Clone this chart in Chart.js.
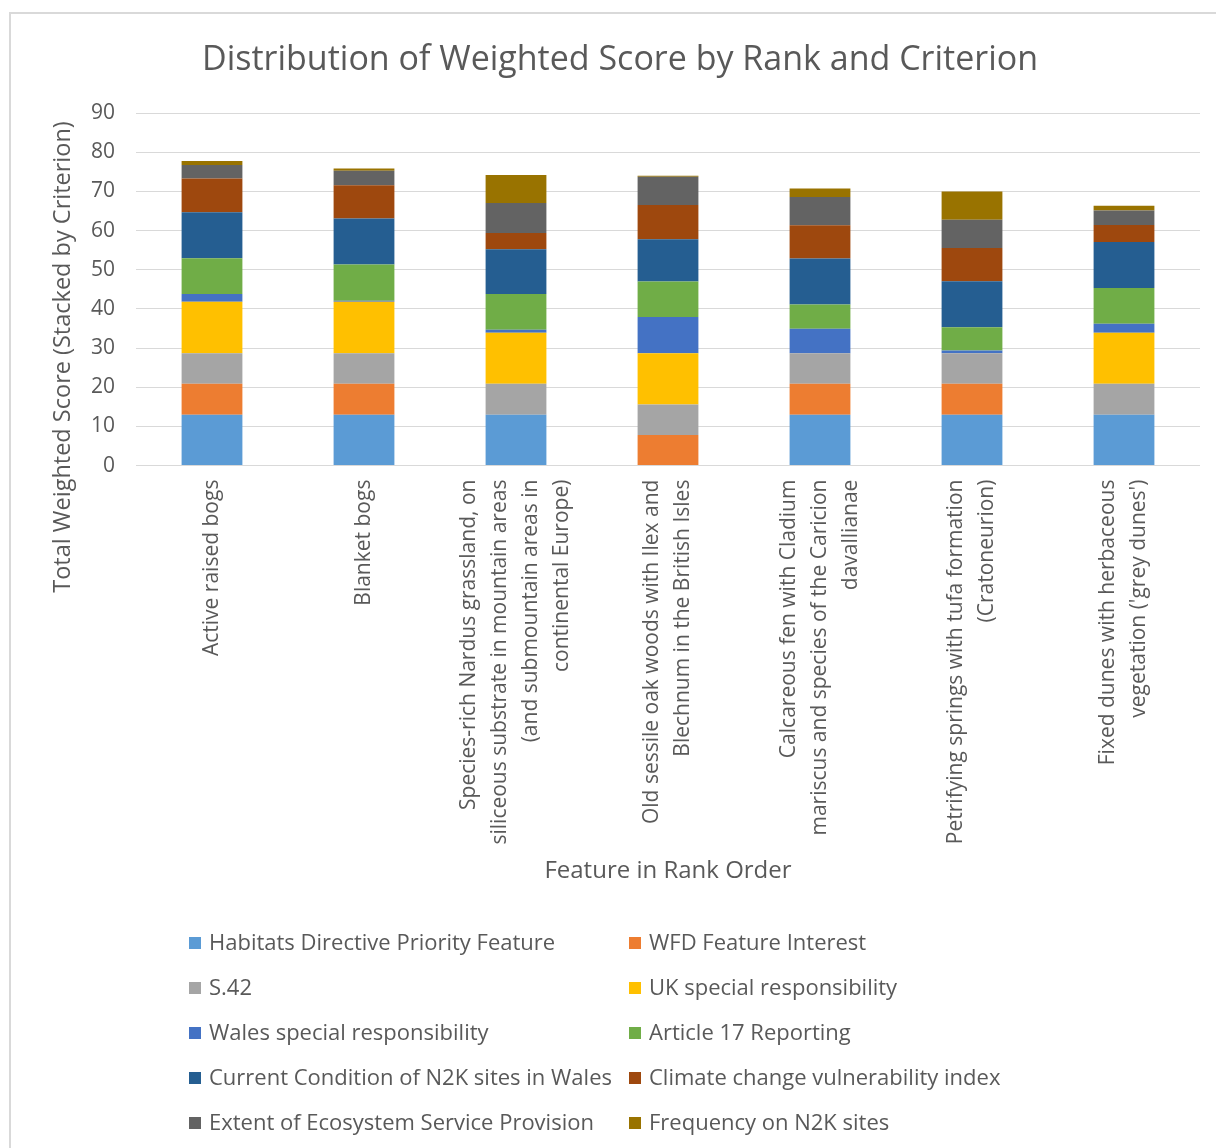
<!DOCTYPE html>
<html><head><meta charset="utf-8">
<script src="https://cdn.jsdelivr.net/npm/chart.js@4"></script>
<style>html,body{margin:0;padding:0;background:#fff}canvas{display:block}</style>
</head><body>
<canvas id="c" width="1216" height="1148"></canvas>
<script>
const categories = [
  ["Active raised bogs"],
  ["Blanket bogs"],
  ["Species-rich Nardus grassland, on", "siliceous substrate in mountain areas", "(and submountain areas in", "continental Europe)"],
  ["Old sessile oak woods with Ilex and", "Blechnum in the British Isles"],
  ["Calcareous fen with Cladium", "mariscus and species of the Caricion", "davallianae"],
  ["Petrifying springs with tufa formation", "(Cratoneurion)"],
  ["Fixed dunes with herbaceous", "vegetation ('grey dunes')"]
];
const seriesNames = [
  "Habitats Directive Priority Feature",
  "WFD Feature Interest",
  "S.42",
  "UK special responsibility",
  "Wales special responsibility",
  "Article 17 Reporting",
  "Current Condition of N2K sites in Wales",
  "Climate change vulnerability index",
  "Extent of Ecosystem Service Provision",
  "Frequency on N2K sites"
];
const habitatsDirective = [13, 13, 13, 0, 13, 13, 13];
const wfdFeature        = [7.9, 7.9, 0, 7.8, 7.9, 7.9, 0];
const s42               = [7.8, 7.8, 7.9, 7.8, 7.8, 7.8, 7.9];
const ukSpecial         = [13.1, 13.1, 13.0, 13.1, 0, 0, 13.0];
const walesSpecial      = [2.0, 0.3, 0.8, 9.2, 6.2, 0.7, 2.3];
const article17         = [9.1, 9.2, 9.1, 9.1, 6.2, 5.9, 9.1];
const currentCondition  = [11.75, 11.75, 11.4, 10.8, 11.75, 11.75, 11.8];
const climateChange     = [8.6, 8.5, 4.2, 8.7, 8.5, 8.5, 4.3];
const ecosystemService  = [3.5, 3.7, 7.6, 7.2, 7.2, 7.2, 3.7];
const frequencyN2K      = [1.0, 0.6, 7.2, 0.3, 2.2, 7.2, 1.2];
const yTickValues = [0, 10, 20, 30, 40, 50, 60, 70, 80, 90];

const seriesValues = [habitatsDirective, wfdFeature, s42, ukSpecial, walesSpecial,
  article17, currentCondition, climateChange, ecosystemService, frequencyN2K];
const colors = ["#5B9BD5", "#ED7D31", "#A5A5A5", "#FFC000", "#4472C4",
  "#70AD47", "#255E91", "#9E480E", "#636363", "#997300"];

const FONT = '"Open Sans", Lato, sans-serif';
const TXT = '#595959';

const decor = {
  id: 'decor',
  beforeDraw(chart) {
    const ctx = chart.ctx;
    ctx.save();
    ctx.fillStyle = '#fff';
    ctx.fillRect(0, 0, chart.width, chart.height);
    ctx.strokeStyle = '#d9d9d9';
    ctx.lineWidth = 2;
    ctx.beginPath();
    ctx.moveTo(10, chart.height); ctx.lineTo(10, 13); ctx.lineTo(chart.width, 13);
    ctx.stroke();
    ctx.restore();
  },
  afterDraw(chart) {
    const ctx = chart.ctx;
    const xs = chart.scales.x;
    const area = chart.chartArea;
    ctx.save();
    ctx.fillStyle = TXT;
    // x category labels, rotated
    ctx.font = '21px ' + FONT;
    ctx.textAlign = 'right';
    ctx.textBaseline = 'middle';
    const lh = 31;
    categories.forEach((lines, i) => {
      const cx = xs.getPixelForValue(i);
      const n = lines.length;
      ctx.save();
      ctx.translate(cx, area.bottom + 14);
      ctx.rotate(-Math.PI / 2);
      lines.forEach((t, j) => {
        ctx.fillText(t, 0, (j - (n - 1) / 2) * lh);
      });
      ctx.restore();
    });
    // y axis title
    ctx.save();
    ctx.font = '23.5px ' + FONT;
    ctx.textAlign = 'center';
    ctx.textBaseline = 'middle';
    ctx.translate(63, 357);
    ctx.rotate(-Math.PI / 2);
    ctx.fillText('Total Weighted Score (Stacked by Criterion)', 0, 0);
    ctx.restore();
    // legend
    ctx.font = '22px ' + FONT;
    ctx.textAlign = 'left';
    ctx.textBaseline = 'middle';
    chart.data.datasets.forEach((ds, i) => {
      const col = i % 2, row = Math.floor(i / 2);
      const bx = col === 0 ? 189 : 629;
      const y = 943 + row * 45;
      ctx.fillStyle = ds.backgroundColor;
      ctx.fillRect(bx, y - 6, 12, 12);
      ctx.fillStyle = TXT;
      ctx.fillText(ds.label, bx + 20, y + 1);
    });
    ctx.restore();
  }
};

new Chart(document.getElementById('c'), {
  type: 'bar',
  data: {
    labels: categories.map(l => l.join(' ')),
    datasets: seriesNames.map((name, i) => ({
      label: name,
      data: seriesValues[i],
      backgroundColor: colors[i],
      borderWidth: 0,
      barPercentage: 0.4,
      categoryPercentage: 1.0
    }))
  },
  options: {
    responsive: false,
    animation: false,
    layout: { padding: { top: 40, left: 40, right: 16, bottom: 262 } },
    plugins: {
      legend: { display: false },
      tooltip: { enabled: false },
      title: {
        display: true,
        text: 'Distribution of Weighted Score by Rank and Criterion',
        color: TXT,
        font: { family: FONT, size: 34, weight: 'normal' },
        padding: { top: 0, bottom: 32.2 }
      }
    },
    scales: {
      x: {
        stacked: true,
        grid: { display: false },
        border: { display: false },
        ticks: { display: false },
        title: {
          display: true,
          text: 'Feature in Rank Order',
          color: TXT,
          font: { family: FONT, size: 24 },
          padding: { top: 383.6, bottom: 0 }
        }
      },
      y: {
        stacked: true,
        min: 0,
        max: 90,
        afterBuildTicks(s) { s.ticks = yTickValues.map(v => ({ value: v })); },
        afterFit(s) { s.width = 96; },
        grid: { color: '#d9d9d9', lineWidth: 1, drawTicks: false },
        border: { display: false },
        ticks: {
          padding: 21,
          color: TXT,
          font: { family: FONT, size: 21 }
        }
      }
    }
  },
  plugins: [decor]
});
</script>
</body></html>
